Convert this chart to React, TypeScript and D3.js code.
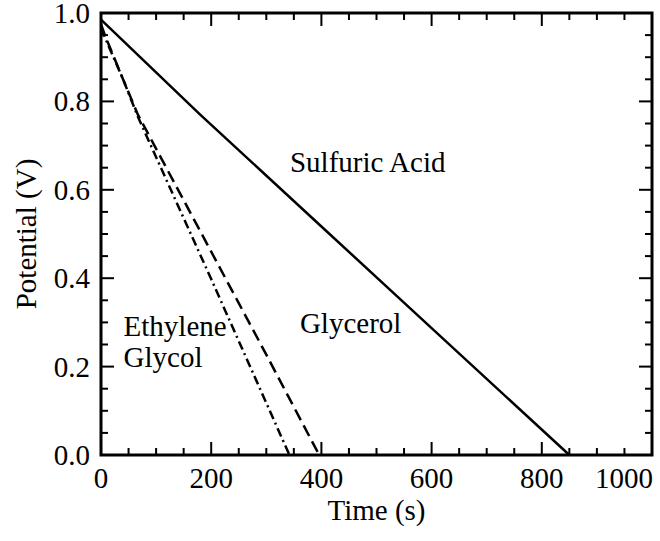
import React, { useEffect, useRef } from 'react';
import * as d3 from 'd3';

// series: [time (s), potential (V)]
const sulfuricAcid: [number, number][] = [
  [0, 0.985], [180, 0.77], [400, 0.517], [600, 0.287], [850, 0],
];
const glycerol: [number, number][] = [
  [0, 0.975], [7, 0.95], [40, 0.85], [67, 0.77], [200, 0.46], [300, 0.227], [396, 0],
];
const ethyleneGlycol: [number, number][] = [
  [0, 0.965], [7, 0.945], [40, 0.85], [67, 0.765], [200, 0.398], [342, 0],
];

const xTicks = [0, 200, 400, 600, 800, 1000];
const yTicks = [0, 0.2, 0.4, 0.6, 0.8, 1.0];

const App = () => {
  const svgRef = useRef<SVGSVGElement>(null);

  useEffect(() => {
    d3.select(svgRef.current).selectAll('*').remove();

    const width = 660;
    const height = 541;
    const margin = { top: 13, right: 8, bottom: 86, left: 101 };
    const font = "'Liberation Serif', 'Times New Roman', serif";
    const fs = 29;

    const svg = d3.select(svgRef.current)
      .attr('width', width)
      .attr('height', height);

    const x = d3.scaleLinear().domain([0, 1000]).range([margin.left, width - margin.right]);
    const y = d3.scaleLinear().domain([0, 1]).range([height - margin.bottom, margin.top]);

    const x0 = x.range()[0], x1 = x.range()[1];
    const y0 = y.range()[0], y1 = y.range()[1];

    // ticks, inward on all four sides
    const ticks = svg.append('g').attr('stroke', '#000').attr('stroke-width', 2);
    d3.range(0, 1001, 50).forEach(v => {
      const len = v % 200 === 0 ? 13 : 7;
      ticks.append('line').attr('x1', x(v)).attr('x2', x(v)).attr('y1', y0).attr('y2', y0 - len);
      ticks.append('line').attr('x1', x(v)).attr('x2', x(v)).attr('y1', y1).attr('y2', y1 + len);
    });
    d3.range(0, 21).map(i => i * 0.05).forEach((v, i) => {
      const len = i % 4 === 0 ? 13 : 7;
      ticks.append('line').attr('y1', y(v)).attr('y2', y(v)).attr('x1', x0).attr('x2', x0 + len);
      ticks.append('line').attr('y1', y(v)).attr('y2', y(v)).attr('x1', x1).attr('x2', x1 - len);
    });

    // lines
    const line = d3.line<[number, number]>().x(d => x(d[0])).y(d => y(d[1]));
    const series = [
      { data: sulfuricAcid, dash: null },
      { data: glycerol, dash: '12,6' },
      { data: ethyleneGlycol, dash: '9,4,2,4' },
    ];
    series.forEach(s => {
      svg.append('path')
        .datum(s.data)
        .attr('d', line)
        .attr('fill', 'none')
        .attr('stroke', '#000')
        .attr('stroke-width', 2.5)
        .attr('stroke-dasharray', s.dash);
    });

    // frame
    svg.append('rect')
      .attr('x', x0).attr('y', y1)
      .attr('width', x1 - x0).attr('height', y0 - y1)
      .attr('fill', 'none').attr('stroke', '#000').attr('stroke-width', 3);

    // tick labels
    xTicks.forEach((v, i) => {
      const last = i === xTicks.length - 1;
      svg.append('text')
        .attr('x', last ? x1 + 1 : x(v))
        .attr('y', y0 + 33)
        .attr('text-anchor', last ? 'end' : 'middle')
        .attr('font-family', font).attr('font-size', fs)
        .text(v);
    });
    yTicks.forEach(v => {
      svg.append('text')
        .attr('x', x0 - 11)
        .attr('y', y(v) + 10)
        .attr('text-anchor', 'end')
        .attr('font-family', font).attr('font-size', fs)
        .text(v.toFixed(1));
    });

    // axis titles
    svg.append('text')
      .attr('x', (x0 + x1) / 2).attr('y', y0 + 65)
      .attr('text-anchor', 'middle')
      .attr('font-family', font).attr('font-size', fs)
      .text('Time (s)');
    svg.append('text')
      .attr('transform', `translate(36,${(y0 + y1) / 2}) rotate(-90)`)
      .attr('text-anchor', 'middle')
      .attr('font-family', font).attr('font-size', fs)
      .text('Potential (V)');

    // series labels
    const labels = [
      { text: 'Sulfuric Acid', t: 343, v: 0.64 },
      { text: 'Glycerol', t: 361, v: 0.275 },
      { text: 'Ethylene', t: 41, v: 0.27 },
      { text: 'Glycol', t: 41, v: 0.2 },
    ];
    labels.forEach(l => {
      svg.append('text')
        .attr('x', x(l.t)).attr('y', y(l.v))
        .attr('font-family', font).attr('font-size', fs)
        .text(l.text);
    });
  }, []);

  return (
    <div style={{ position: 'absolute', left: 0, top: 0 }}>
      <svg ref={svgRef}></svg>
    </div>
  );
};

export default App;
